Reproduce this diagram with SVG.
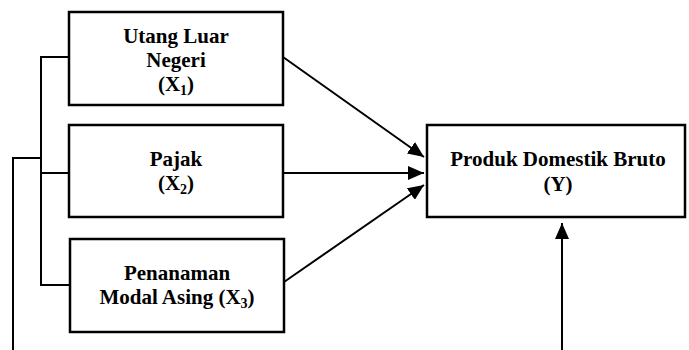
<svg xmlns="http://www.w3.org/2000/svg" width="689" height="350" viewBox="0 0 689 350">
<style>
.box{fill:#fff;stroke:#000;stroke-width:2.5}
.t{font-family:"Liberation Serif","Times New Roman",serif;font-weight:bold;font-size:21px;text-anchor:middle;fill:#000}
.sub{font-size:14px}
.ln{fill:none;stroke:#000;stroke-width:2}
.ar{fill:none;stroke:#000;stroke-width:2;marker-end:url(#ah)}
</style>
<defs>
<marker id="ah" markerUnits="userSpaceOnUse" markerWidth="17" markerHeight="14" refX="16" refY="7" orient="auto">
<path d="M0,0 L16,7 L0,14 z" fill="#000"/>
</marker>
</defs>
<rect width="689" height="350" fill="#fff"/>
<g id="connectors">
<polyline class="ln" points="69,57 41,57 41,285 70,285"/>
<line class="ln" x1="41" y1="173" x2="69" y2="173"/>
<polyline class="ln" points="41,158 13,158 13,350"/>
<line class="ar" x1="283" y1="57" x2="424" y2="157"/>
<line class="ar" x1="283" y1="173" x2="424" y2="173"/>
<line class="ar" x1="284" y1="282" x2="424" y2="185"/>
<line class="ar" x1="562" y1="350" x2="562" y2="223"/>
</g>
<g id="x1">
<rect class="box" x="69" y="12" width="214" height="93"/>
<text class="t" x="176" y="43">Utang Luar</text>
<text class="t" x="176" y="67">Negeri</text>
<text class="t" x="176" y="91">(X<tspan class="sub" dy="4">1</tspan><tspan dy="-4">)</tspan></text>
</g>
<g id="x2">
<rect class="box" x="69" y="125" width="214" height="92"/>
<text class="t" x="176" y="166">Pajak</text>
<text class="t" x="176" y="190">(X<tspan class="sub" dy="4">2</tspan><tspan dy="-4">)</tspan></text>
</g>
<g id="x3">
<rect class="box" x="70" y="239" width="214" height="93"/>
<text class="t" x="177" y="280">Penanaman</text>
<text class="t" x="177" y="304">Modal Asing (X<tspan class="sub" dy="4">3</tspan><tspan dy="-4">)</tspan></text>
</g>
<g id="y">
<rect class="box" x="427" y="125" width="258" height="92"/>
<text class="t" x="558" y="166">Produk Domestik Bruto</text>
<text class="t" x="558" y="191">(Y)</text>
</g>
</svg>
